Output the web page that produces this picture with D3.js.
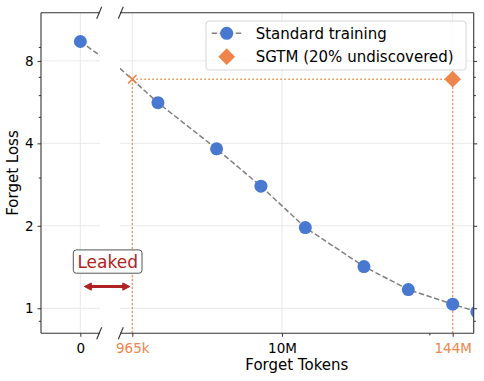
<!DOCTYPE html>
<html>
<head>
<meta charset="utf-8">
<script src="https://cdn.jsdelivr.net/npm/d3@7"></script>
<style>
  body{ margin:0; background:#fff; }
  svg{ display:block; font-family:"DejaVu Sans", sans-serif; }
</style>
</head>
<body>
<div id="chart"></div>
<script>
// values
const stdTokens = [0, 1.44e6, 3.6e6, 7.2e6, 14.4e6, 36e6, 72e6, 144e6, 210e6];
const stdLoss   = [9.42, 5.63, 3.82, 2.79, 1.97, 1.42, 1.17, 1.035, 0.97];
const sgtmTokens = [144e6];
const sgtmLoss   = [6.86];
const matchTokens = [965e3];          // standard training hits SGTM loss here
const yTicks = [1, 2, 4, 8];
const yMinor = [0.9, 3, 5, 6, 7, 9];
const xTicks = [965e3, 10e6, 144e6];
const xTickLabels = ['965k', '10M', '144M'];
const xMinor = [100e6];
const zeroAt = 5e5;                   // where "0 tokens" sits on the log axis

const W = 484, H = 381;
const yTop = 12.7, yBot = 333.3;
const BLUE = '#4878d0', ORANGE = '#ee854a', RED = '#b22222', SPINE = '#333';

const svg = d3.select('#chart').append('svg').attr('width', W).attr('height', H);

const y = d3.scaleLog().domain([0.81, 12]).range([yBot, yTop]);
const xL = d3.scaleLog().domain([3.08e5, 6.37e5]).range([41, 100]);
const xR = d3.scaleLog().domain([7.96e5, 2.0e8]).range([120, 473.7]);
const tx = t => t === 0 ? zeroAt : t;

const std = stdTokens.map((t, i) => ({t: t, loss: stdLoss[i]}));

// clip paths for both panels
const defs = svg.append('defs');
[['clipL', xL], ['clipR', xR]].forEach(([id, sc]) => {
  const r = sc.range();
  defs.append('clipPath').attr('id', id).append('rect')
    .attr('x', r[0]).attr('y', yTop).attr('width', r[1] - r[0]).attr('height', yBot - yTop);
});

function panel(sc, clip, isRight) {
  const g = svg.append('g');
  const r = sc.range();
  // grid
  g.selectAll('.hg').data(yTicks).enter().append('line')
    .attr('x1', r[0]).attr('x2', r[1]).attr('y1', d => y(d)).attr('y2', d => y(d))
    .attr('stroke', '#e6e6e6').attr('stroke-width', 0.9);
  const gx = isRight ? xTicks : [zeroAt];
  g.selectAll('.vg').data(gx).enter().append('line')
    .attr('x1', d => sc(d)).attr('x2', d => sc(d)).attr('y1', yTop).attr('y2', yBot)
    .attr('stroke', '#e6e6e6').attr('stroke-width', 0.9);

  const inner = g.append('g').attr('clip-path', `url(#${clip})`);
  if (isRight) {
    const yl = y(sgtmLoss[0]);
    inner.append('line')
      .attr('x1', sc(matchTokens[0])).attr('x2', sc(sgtmTokens[0]))
      .attr('y1', yl).attr('y2', yl);
    inner.append('line')
      .attr('x1', sc(matchTokens[0])).attr('x2', sc(matchTokens[0]))
      .attr('y1', yl).attr('y2', yBot);
    inner.append('line')
      .attr('x1', sc(sgtmTokens[0])).attr('x2', sc(sgtmTokens[0]))
      .attr('y1', yl).attr('y2', yBot);
    inner.selectAll('line').attr('stroke', ORANGE).attr('stroke-width', 1.5)
      .attr('stroke-dasharray', '1.5,2.5');
  }
  inner.append('path').datum(std)
    .attr('d', d3.line().x(d => sc(tx(d.t))).y(d => y(d.loss)))
    .attr('fill', 'none').attr('stroke', '#808080').attr('stroke-width', 1.5)
    .attr('stroke-dasharray', '5.5,2.5');
  inner.selectAll('circle').data(std).enter().append('circle')
    .attr('cx', d => sc(tx(d.t))).attr('cy', d => y(d.loss)).attr('r', 6.5)
    .attr('fill', BLUE);
  if (isRight) {
    const mx = sc(matchTokens[0]), my = y(sgtmLoss[0]), s = 4.2;
    inner.append('path')
      .attr('d', `M${mx - s},${my - s}L${mx + s},${my + s}M${mx - s},${my + s}L${mx + s},${my - s}`)
      .attr('stroke', ORANGE).attr('stroke-width', 1.6);
    inner.selectAll('.dia').data(sgtmTokens).enter().append('path')
      .attr('d', d3.symbol(d3.symbolSquare, 140)())
      .attr('transform', (d, i) => `translate(${sc(d)},${y(sgtmLoss[i])}) rotate(45)`)
      .attr('fill', ORANGE);
  }

  // x ticks
  const ax = d3.axisBottom(sc).tickSize(3.5).tickPadding(7);
  if (isRight) ax.tickValues(xTicks).tickFormat((d, i) => xTickLabels[i]);
  else ax.tickValues([zeroAt]).tickFormat(() => '0');
  const axg = g.append('g').attr('transform', `translate(0,${yBot})`).call(ax);
  axg.select('.domain').remove();
  axg.selectAll('text').attr('font-size', 13.5).attr('font-family', 'DejaVu Sans')
    .attr('fill', d => (isRight && d !== 10e6) ? ORANGE : '#000');
  axg.selectAll('line').attr('stroke', SPINE);
  if (isRight) {
    const mg = g.append('g').attr('transform', `translate(0,${yBot})`)
      .call(d3.axisBottom(sc).tickValues(xMinor).tickSize(2.2).tickFormat(''));
    mg.select('.domain').remove();
    mg.selectAll('line').attr('stroke', SPINE);
  }

  // y ticks
  const yx = isRight ? r[1] : r[0];
  const yAx = isRight ? d3.axisRight(y) : d3.axisLeft(y);
  const yg = g.append('g').attr('transform', `translate(${yx},0)`)
    .call(yAx.tickValues(yTicks).tickSize(3.5).tickPadding(4)
      .tickFormat(isRight ? '' : d3.format('d')));
  yg.select('.domain').remove();
  yg.selectAll('text').attr('font-size', 13.5).attr('font-family', 'DejaVu Sans').attr('fill', '#000');
  yg.selectAll('line').attr('stroke', SPINE);
  const ym = g.append('g').attr('transform', `translate(${yx},0)`)
    .call((isRight ? d3.axisRight(y) : d3.axisLeft(y)).tickValues(yMinor).tickSize(2.2).tickFormat(''));
  ym.select('.domain').remove();
  ym.selectAll('line').attr('stroke', SPINE);

  // spines
  const sp = g.append('g').attr('stroke', SPINE).attr('stroke-width', 1.1).attr('fill', 'none');
  sp.append('line').attr('x1', r[0]).attr('x2', r[1]).attr('y1', yTop).attr('y2', yTop);
  sp.append('line').attr('x1', r[0]).attr('x2', r[1]).attr('y1', yBot).attr('y2', yBot);
  sp.append('line').attr('x1', yx).attr('x2', yx).attr('y1', yTop).attr('y2', yBot);
  // break marks
  const bx = isRight ? r[0] + 0.8 : r[1] - 0.8;
  [yTop, yBot].forEach(by => {
    sp.append('line').attr('x1', bx - 2.5).attr('y1', by + 6).attr('x2', bx + 2.5).attr('y2', by - 6);
  });
}

panel(xL, 'clipL', false);
panel(xR, 'clipR', true);

// axis titles
const xr = xR.range();
svg.append('text').attr('x', (xr[0] + xr[1]) / 2).attr('y', 370)
  .attr('text-anchor', 'middle').attr('font-size', 15).text('Forget Tokens');
svg.append('text').attr('transform', `translate(18.3,${(yTop + yBot) / 2}) rotate(-90)`)
  .attr('text-anchor', 'middle').attr('font-size', 15).text('Forget Loss');

// "Leaked" annotation: from 0 tokens up to the matching point
const ay = y(1.2);
const ax0 = xL(zeroAt) + 4, ax1 = xR(matchTokens[0]) - 2.5;
svg.append('line').attr('x1', ax0 + 4).attr('x2', ax1 - 4).attr('y1', ay).attr('y2', ay)
  .attr('stroke', RED).attr('stroke-width', 3);
svg.append('path')
  .attr('d', `M${ax0},${ay}L${ax0 + 7},${ay - 3.6}L${ax0 + 7},${ay + 3.6}Z` +
             `M${ax1},${ay}L${ax1 - 7},${ay - 3.6}L${ax1 - 7},${ay + 3.6}Z`)
  .attr('fill', RED).attr('stroke', RED).attr('stroke-width', 1).attr('stroke-linejoin', 'round');
const ly = y(1.48);
const lab = svg.append('g');
lab.append('rect').attr('x', 73.3).attr('y', ly - 11.7).attr('width', 68.7).attr('height', 23.3)
  .attr('rx', 3).attr('fill', '#fff').attr('stroke', '#555').attr('stroke-width', 1);
lab.append('text').attr('x', 107.7).attr('y', ly).attr('dy', '0.36em')
  .attr('text-anchor', 'middle').attr('font-size', 17).attr('fill', RED).text('Leaked');

// legend
const lg = svg.append('g').attr('transform', 'translate(206,21)');
lg.append('rect').attr('width', 260).attr('height', 49).attr('rx', 3)
  .attr('fill', '#fff').attr('fill-opacity', 0.85).attr('stroke', '#d6d6d6').attr('stroke-width', 1);
lg.append('line').attr('x1', 5.7).attr('x2', 35.7).attr('y1', 12.3).attr('y2', 12.3)
  .attr('stroke', '#808080').attr('stroke-width', 1.5).attr('stroke-dasharray', '5.5,2.5');
lg.append('circle').attr('cx', 20.7).attr('cy', 12.3).attr('r', 6.5).attr('fill', BLUE);
lg.append('path').attr('d', d3.symbol(d3.symbolSquare, 140)())
  .attr('transform', 'translate(20.7,35.7) rotate(45)').attr('fill', ORANGE);
lg.append('text').attr('x', 49.7).attr('y', 12.3).attr('dy', '0.36em').attr('font-size', 15)
  .text('Standard training');
lg.append('text').attr('x', 49.7).attr('y', 35.7).attr('dy', '0.36em').attr('font-size', 15)
  .text('SGTM (20% undiscovered)');
</script>
</body>
</html>
